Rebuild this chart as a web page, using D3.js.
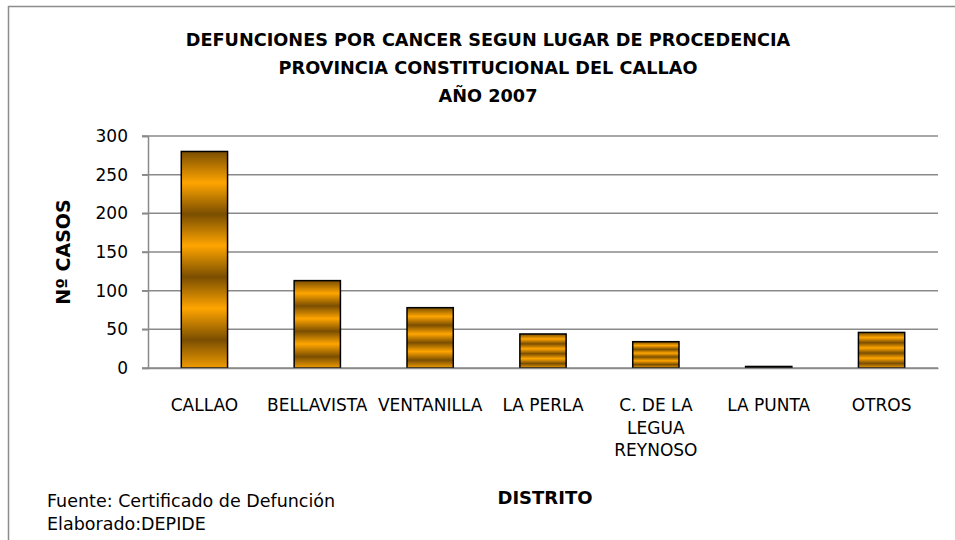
<!DOCTYPE html>
<html>
<head>
<meta charset="utf-8">
<script src="https://cdn.jsdelivr.net/npm/d3@7"></script>
<style>
  body { margin: 0; background: #fff; }
  svg { display: block; }
</style>
</head>
<body>
<svg width="955" height="540"></svg>
<script>
// datos
const distritos = ["CALLAO", "BELLAVISTA", "VENTANILLA", "LA PERLA", "C. DE LA|LEGUA|REYNOSO", "LA PUNTA", "OTROS"];
const casos = [280, 113, 78, 44, 34, 2, 46];
const yTicks = [0, 50, 100, 150, 200, 250, 300];
const titulo = ["DEFUNCIONES POR CANCER SEGUN LUGAR DE PROCEDENCIA", "PROVINCIA CONSTITUCIONAL  DEL CALLAO", "AÑO 2007"];
const notas = ["Fuente: Certificado de Defunción", "Elaborado:DEPIDE"];

const margin = { top: 136, right: 17, bottom: 172, left: 148 };
const width = 955 - margin.left - margin.right;
const height = 540 - margin.top - margin.bottom;

const svg = d3.select("svg");
const font = "'DejaVu Sans', Verdana, sans-serif";

// borde del area del grafico
svg.append("path")
  .attr("d", "M8.5,540 V6.5 H955")
  .attr("fill", "none")
  .attr("stroke", "#8c8c8c")
  .attr("stroke-width", 1.5);

// relleno rayado de las barras
const grad = svg.append("defs").append("linearGradient")
  .attr("id", "rayas")
  .attr("x1", 0).attr("y1", 0)
  .attr("x2", 0).attr("y2", 0.29)
  .attr("spreadMethod", "repeat");
grad.append("stop").attr("offset", "0%").attr("stop-color", "#7a4e00");
grad.append("stop").attr("offset", "50%").attr("stop-color", "#ffa500");
grad.append("stop").attr("offset", "100%").attr("stop-color", "#7a4e00");

const g = svg.append("g")
  .attr("transform", "translate(" + margin.left + "," + margin.top + ")");

const x = d3.scaleBand()
  .domain(distritos)
  .range([0, width])
  .paddingInner(0.59)
  .paddingOuter(0.295);

const y = d3.scaleLinear()
  .domain([0, 300])
  .range([height, 0]);

// lineas de division
g.append("g")
  .selectAll("line")
  .data(yTicks)
  .join("line")
  .attr("x1", -6)
  .attr("x2", width)
  .attr("y1", d => y(d))
  .attr("y2", d => y(d))
  .attr("stroke", "#8a8a8a")
  .attr("stroke-width", 1.5);

// eje y
const yAxis = g.append("g")
  .call(d3.axisLeft(y).tickValues(yTicks).tickSize(6).tickPadding(14));
yAxis.select(".domain").attr("stroke", "#8a8a8a").attr("stroke-width", 1.5);
yAxis.selectAll(".tick line").attr("stroke", "#8a8a8a").attr("stroke-width", 1.5);
yAxis.selectAll("text")
  .attr("font-family", font)
  .attr("font-size", 17)
  .attr("fill", "#000");

// barras
g.append("g")
  .selectAll("rect")
  .data(casos)
  .join("rect")
  .attr("x", (d, i) => x(distritos[i]))
  .attr("y", d => y(d))
  .attr("width", x.bandwidth())
  .attr("height", d => height - y(d))
  .attr("fill", "url(#rayas)")
  .attr("stroke", "#000")
  .attr("stroke-width", 1.5);

// eje x (sin marcas)
const xAxis = g.append("g")
  .attr("transform", "translate(0," + height + ")")
  .call(d3.axisBottom(x).tickSize(0).tickPadding(0));
xAxis.select(".domain").attr("stroke", "#8a8a8a").attr("stroke-width", 1.5);
xAxis.selectAll(".tick text").remove();
xAxis.selectAll(".tick")
  .append("text")
  .attr("font-family", font)
  .attr("font-size", 17)
  .attr("fill", "#000")
  .attr("text-anchor", "middle")
  .selectAll("tspan")
  .data(d => d.split("|"))
  .join("tspan")
  .attr("x", 0)
  .attr("y", (d, i) => 43 + i * 22.5)
  .text(d => d);

// titulo
svg.append("g")
  .selectAll("text")
  .data(titulo)
  .join("text")
  .attr("x", 488)
  .attr("y", (d, i) => 46 + i * 28)
  .attr("text-anchor", "middle")
  .attr("font-family", font)
  .attr("font-weight", "bold")
  .attr("font-size", 17.7)
  .text(d => d);

// titulos de ejes
svg.append("text")
  .attr("transform", "translate(70,252) rotate(-90)")
  .attr("text-anchor", "middle")
  .attr("font-family", font)
  .attr("font-weight", "bold")
  .attr("font-size", 19)
  .text("Nº CASOS");

svg.append("text")
  .attr("x", 545)
  .attr("y", 504)
  .attr("text-anchor", "middle")
  .attr("font-family", font)
  .attr("font-weight", "bold")
  .attr("font-size", 18)
  .text("DISTRITO");

// fuente
svg.append("g")
  .selectAll("text")
  .data(notas)
  .join("text")
  .attr("x", 47)
  .attr("y", (d, i) => 507 + i * 23)
  .attr("font-family", font)
  .attr("font-size", 17.5)
  .text(d => d);
</script>
</body>
</html>
